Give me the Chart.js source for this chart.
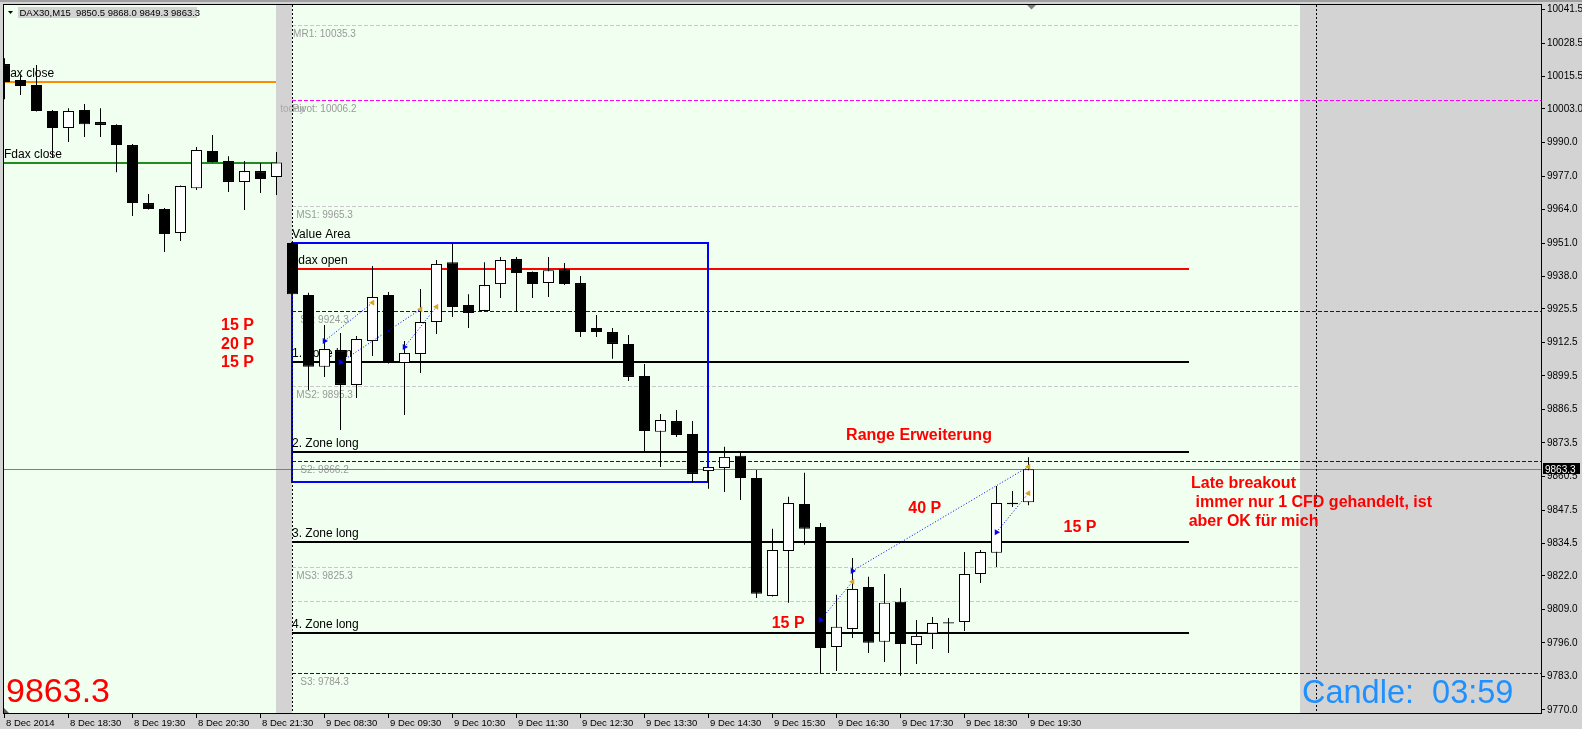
<!DOCTYPE html>
<html><head><meta charset="utf-8">
<script src="https://cdn.jsdelivr.net/npm/chart.js@4.4.1/dist/chart.umd.min.js"></script>
<style>html,body{margin:0;padding:0;background:#D3D3D3;overflow:hidden}canvas{display:block}</style>
</head><body>
<canvas id="c" width="1582" height="729"></canvas>
<script>
// ---------- data ----------
const symbol = 'DAX30,M15';
const opens = [10020.4,10014.2,10012.3,10002.2,9995.6,10002.6,9997.9,9996.8,9989.0,9966.5,9964.2,9954.9,9972.3,9986.7,9982.8,9974.7,9978.9,9976.6,
 9951.0,9930.9,9903.0,9909.5,9896.0,9913.0,9930.9,9904.5,9908.0,9920.4,9943.6,9927.0,9924.7,9935.1,9944.8,9939.8,9935.5,9940.9,9935.5,9918.1,9916.5,9911.9,9899.5,9877.8,9882.0,9877.0,9862.6,9863.8,9868.5,9859.9,9814.2,9831.6,9849.8,9840.9,9794.4,9801.4,9817.7,9796.4,9811.9,9795.2,9799.5,9804.0,9804.1,9822.7,9830.9,9850.3,9850.5];
const highs = [10022.7,10016.1,10020.0,10002.6,10003.3,10004.9,10003.3,9997.1,9989.4,9970.0,9964.6,9973.3,9988.2,9992.9,9984.7,9982.8,9982.0,9986.3,
 9951.2,9931.7,9919.2,9916.1,9915.0,9942.1,9932.0,9913.0,9933.2,9944.4,9951.0,9931.2,9943.6,9945.6,9945.6,9940.0,9945.6,9943.3,9938.2,9923.1,9918.1,9915.4,9904.1,9884.7,9886.3,9882.0,9864.2,9872.0,9870.0,9863.0,9840.2,9852.6,9861.9,9842.5,9814.6,9828.9,9821.6,9822.7,9817.3,9804.9,9806.0,9805.6,9831.2,9832.0,9856.8,9854.9,9868.0];
const lows = [10006.8,10008.4,10002.0,9984.0,9990.2,9992.1,9992.1,9978.5,9961.5,9964.0,9947.5,9951.8,9971.6,9982.2,9970.8,9963.8,9970.4,9969.6,
 9931.0,9894.0,9899.1,9878.5,9890.9,9907.2,9904.3,9884.3,9900.6,9915.7,9922.3,9918.1,9924.5,9929.7,9924.3,9929.7,9930.1,9934.7,9914.6,9914.6,9906.1,9897.5,9870.0,9864.2,9875.8,9858.0,9855.7,9854.5,9851.4,9813.4,9814.0,9811.5,9834.0,9784.3,9785.1,9797.9,9792.1,9788.6,9783.2,9787.8,9793.6,9792.1,9800.6,9819.2,9825.4,9848.7,9849.3];
const closes = [10013.4,10011.9,10002.2,9995.6,10002.2,9997.1,9996.8,9989.0,9966.5,9964.2,9954.5,9973.1,9987.1,9982.4,9974.7,9978.9,9975.8,9982.2,
 9931.2,9903.0,9909.9,9896.0,9913.8,9930.1,9904.5,9908.4,9920.4,9942.9,9926.2,9923.9,9934.7,9944.4,9939.4,9935.1,9940.5,9935.1,9916.5,9916.5,9911.9,9899.1,9878.1,9882.4,9876.6,9861.5,9864.2,9868.1,9859.9,9815.0,9832.0,9850.2,9840.2,9794.0,9802.2,9816.9,9796.0,9811.5,9795.6,9798.7,9803.7,9803.5,9822.7,9831.2,9850.2,9849.7,9863.3];

const xTickIdx = [0,4,8,12,16,20,24,28,32,36,40,44,48,52,56,60,64];
const xTickLabels = ['8 Dec 2014','8 Dec 18:30','8 Dec 19:30','8 Dec 20:30','8 Dec 21:30','9 Dec 08:30','9 Dec 09:30','9 Dec 10:30','9 Dec 11:30','9 Dec 12:30','9 Dec 13:30','9 Dec 14:30','9 Dec 15:30','9 Dec 16:30','9 Dec 17:30','9 Dec 18:30','9 Dec 19:30'];
const yTicks = [10041.5,10028.5,10015.5,10003.0,9990.0,9977.0,9964.0,9951.0,9938.0,9925.5,9912.5,9899.5,9886.5,9873.5,9860.5,9847.5,9834.5,9822.0,9809.0,9796.0,9783.0,9770.0];

const sessionStart = [-1, 18];
const sessionEnd = [17, 81];
const separatorIdx = [18, 82];

const pivotNames = ['MR1','Pivot','MS1','S1','MS2','S2','MS3','','S3'];
const pivotValues = [10035.3,10006.2,9965.3,9924.3,9895.3,9866.2,9825.3,9812.1,9784.3];

const closeNames = ['Dax close','Fdax close'];
const closeValues = [10013.4, 9982.2];

const zoneNames = ['Fdax open','1. Zone long','2. Zone long','3. Zone long','4. Zone long'];
const zoneValues = [9940.9, 9905.0, 9870.1, 9835.2, 9800.0];

const valueAreaIdx = [18, 44];
const valueAreaPrice = [9858.2, 9951.0];

const tradeEntryIdx = [20, 21, 25, 51, 53, 62];
const tradeEntryPrice = [9913.0, 9904.8, 9910.7, 9804.9, 9823.9, 9838.9];
const tradeExitIdx = [23, 26, 27, 53, 64, 64];
const tradeExitPrice = [9927.9, 9925.3, 9926.3, 9819.7, 9864.3, 9854.0];

const noteTexts = ['15 P','20 P','15 P','Range Erweiterung','40 P','15 P','15 P','Late breakout',' immer nur 1 CFD gehandelt, ist','aber OK für mich'];
const noteIdx = [13.53,13.53,13.53,52.6,56.49,47.95,66.19,74.16,74.16,74.01];
const notePrice = [9917.1,9909.8,9902.8,9874.7,9846.2,9801.7,9839.0,9855.9,9848.8,9841.3];

const candleTimer = 'Candle:  03:59';

// ---------- chart ----------
const FONT = '"Liberation Sans", Arial, sans-serif';
Chart.defaults.font.family = FONT;
Chart.defaults.color = '#000';

function txt(ctx, s, x, y, font, color, align) {
  ctx.font = font; ctx.fillStyle = color; ctx.textAlign = align || 'left';
  ctx.textBaseline = 'alphabetic'; ctx.fillText(s, x, y);
}

const mt4 = {
  id: 'mt4',
  beforeDraw(chart) {
    const {ctx, chartArea: ca, scales: {x}} = chart;
    ctx.save();
    ctx.fillStyle = '#D3D3D3'; ctx.fillRect(0, 0, chart.width, chart.height);
    ctx.fillStyle = '#A0A0A0'; ctx.fillRect(0, 0, chart.width, 2);
    ctx.beginPath(); ctx.rect(ca.left, ca.top, ca.right - ca.left, ca.bottom - ca.top); ctx.clip();
    ctx.fillStyle = '#F0FFF0';
    sessionStart.forEach((s, i) => {
      const a = Math.max(ca.left, Math.floor(x.getPixelForValue(s)));
      const b = Math.min(ca.right, Math.floor(x.getPixelForValue(sessionEnd[i])));
      ctx.fillRect(a, ca.top, b - a, ca.bottom - ca.top);
    });
    ctx.restore();
  },
  beforeDatasetsDraw(chart) {
    const {ctx, chartArea: ca, scales: {x, y}} = chart;
    const X = v => x.getPixelForValue(v), Y = v => y.getPixelForValue(v);
    const hline = (v, x0, x1, color, w, dash) => {
      let py = Y(v);
      py = (w % 2) ? Math.round(py - 0.5) + 0.5 : Math.round(py);
      ctx.beginPath(); ctx.setLineDash(dash || []); ctx.strokeStyle = color; ctx.lineWidth = w;
      ctx.moveTo(x0, py); ctx.lineTo(x1, py); ctx.stroke();
      ctx.setLineDash([]);
      return py;
    };
    ctx.save();
    ctx.beginPath(); ctx.rect(ca.left, ca.top, ca.right - ca.left, ca.bottom - ca.top); ctx.clip();
    const xa = Math.floor(X(18));
    // pivot levels
    pivotNames.forEach((n, i) => {
      const isS = n.startsWith('S'), isP = n.startsWith('P');
      const color = isP ? '#FF00FF' : (isS ? '#0000FF' : '#C8C8C8');
      const x1 = (isP || isS) ? ca.right : Math.floor(X(81));
      const py = hline(pivotValues[i], xa, x1, color, 1, [4, 2]);
      if (isP) txt(ctx, 'today', X(18), py + 11, '10px ' + FONT, '#AAAAAA', 'center');
      if (n) txt(ctx, n + ': ' + pivotValues[i].toFixed(1), X(20), py + 11, '10px ' + FONT, '#999999', 'center');
    });
    // previous close lines
    const closeColors = ['#FF8C00', '#228B22'];
    closeNames.forEach((n, i) => {
      const py = hline(closeValues[i], ca.left, Math.floor(X(17)), closeColors[i], 2);
      txt(ctx, n, i === 0 ? ca.left - 2.5 : ca.left, py - 5, '12px ' + FONT, '#000');
    });
    // zones
    zoneNames.forEach((n, i) => {
      const py = hline(zoneValues[i], xa, Math.ceil(X(74)), i === 0 ? '#FF0000' : '#000000', 2);
      txt(ctx, n, i === 0 ? xa - 1 : xa, py - 5, '12px ' + FONT, '#000');
    });
    // current price line
    hline(closes[closes.length - 1], ca.left, ca.right, '#808080', 1);
    // value area box
    const bx0 = Math.floor(X(valueAreaIdx[0])), bx1 = Math.floor(X(valueAreaIdx[1]));
    const by0 = Math.round(Y(valueAreaPrice[1])), by1 = Math.round(Y(valueAreaPrice[0]));
    ctx.strokeStyle = '#0000FF'; ctx.lineWidth = 2;
    ctx.strokeRect(bx0, by0, bx1 - bx0, by1 - by0);
    txt(ctx, 'Value Area', xa, by0 - 5.5, '12px ' + FONT, '#000');
    // separators
    ctx.strokeStyle = '#000'; ctx.lineWidth = 1; ctx.setLineDash([2, 2]);
    separatorIdx.forEach(s => {
      const px = Math.floor(X(s)) + 0.5;
      ctx.beginPath(); ctx.moveTo(px, ca.top); ctx.lineTo(px, ca.bottom); ctx.stroke();
    });
    ctx.setLineDash([]);
    // notes
    noteTexts.forEach((t, i) => txt(ctx, t, X(noteIdx[i]), Y(notePrice[i]), 'bold 16px ' + FONT, '#FF0000'));
    ctx.restore();
  },
  afterDatasetsDraw(chart) {
    const {ctx, chartArea: ca, scales: {y}} = chart;
    ctx.save();
    // frame
    ctx.strokeStyle = '#000'; ctx.lineWidth = 1;
    ctx.strokeRect(ca.left - 0.5, ca.top - 0.5, ca.right - ca.left + 1, ca.bottom - ca.top + 1);
    // last price label on axis
    const last = closes[closes.length - 1];
    const py = y.getPixelForValue(last);
    ctx.fillStyle = '#000'; ctx.fillRect(ca.right + 2, Math.round(py) - 6, 37, 11);
    txt(ctx, last.toFixed(1), ca.right + 4, Math.round(py) + 3.5, '10px ' + FONT, '#FFFFFF');
    // big texts
    txt(ctx, last.toFixed(1), 6, 702, '34px ' + FONT, '#FF0000');
    txt(ctx, candleTimer, 1302, 703, '32.5px ' + FONT, '#1E90FF');
    // header
    ctx.fillStyle = '#D3D3D3'; ctx.fillRect(18, 7, 179, 11);
    const i = closes.length - 1;
    txt(ctx, symbol + '  ' + [opens[i], highs[i], lows[i], closes[i]].map(v => v.toFixed(1)).join(' '), 19.5, 16, '9.5px ' + FONT, '#000');
    ctx.fillStyle = '#000';
    ctx.beginPath(); ctx.moveTo(8, 11); ctx.lineTo(13, 11); ctx.lineTo(10.5, 14); ctx.closePath(); ctx.fill();
    // shift marker and corner marker
    ctx.fillStyle = '#808080';
    ctx.beginPath(); ctx.moveTo(1027, 5); ctx.lineTo(1036, 5); ctx.lineTo(1031.5, 9.5); ctx.closePath(); ctx.fill();
    ctx.fillStyle = '#606060';
    ctx.beginPath(); ctx.moveTo(4, 708); ctx.lineTo(4, 713); ctx.lineTo(9, 713); ctx.closePath(); ctx.fill();
    ctx.restore();
  }
};

const bodyColors = opens.map((o, i) => closes[i] >= o ? '#FFFFFF' : '#000000');

const datasets = [
  {
    type: 'bar', label: 'wick',
    data: lows.map((l, i) => ({x: i, y: [l, highs[i]]})),
    backgroundColor: '#000', borderWidth: 0, maxBarThickness: 1,
    grouped: false, order: 3, clip: 0
  },
  {
    type: 'bar', label: 'body',
    data: opens.map((o, i) => ({x: i, y: [o, closes[i]]})),
    backgroundColor: bodyColors, borderColor: '#000', borderWidth: 1, borderSkipped: false,
    maxBarThickness: 11, grouped: false, order: 2, clip: 0
  }
].concat(tradeEntryIdx.map((e, i) => ({
  type: 'line', label: 'trade' + i,
  data: [{x: e, y: tradeEntryPrice[i]}, {x: tradeExitIdx[i], y: tradeExitPrice[i]}],
  borderColor: '#0000FF', borderWidth: 1, borderDash: [1, 2],
  pointStyle: 'triangle', pointRotation: [90, -90], pointRadius: 3.5,
  pointBackgroundColor: ['#0000FF', '#DAA520'], pointBorderColor: ['#0000FF', '#DAA520'], pointBorderWidth: 0,
  order: 1
})));

new Chart(document.getElementById('c'), {
  type: 'bar',
  data: {datasets},
  plugins: [mt4],
  options: {
    responsive: false, animation: false, devicePixelRatio: 1, events: [],
    layout: {padding: {left: 4, top: 5, right: 0, bottom: 0}, autoPadding: false},
    plugins: {legend: {display: false}, tooltip: {enabled: false}},
    scales: {
      x: {
        type: 'linear', offset: false, min: -0.03125, max: 96.03125,
        grid: {offset: false, drawOnChartArea: false, drawTicks: true, tickLength: 5, color: '#000'},
        border: {display: false},
        ticks: {autoSkip: false, maxRotation: 0, minRotation: 0, align: 'start', labelOffset: 1.5, padding: 0,
          font: {size: 9.5}, color: '#000',
          callback: (v) => { const k = xTickIdx.indexOf(v); return k >= 0 ? xTickLabels[k] : ''; }},
        afterBuildTicks: s => { s.ticks = xTickIdx.map(v => ({value: v})); },
        afterFit: s => { s.height = 16; s.paddingLeft = 0; s.paddingRight = 0; }
      },
      y: {
        type: 'linear', position: 'right', min: 9768.8, max: 10043.3,
        grid: {drawOnChartArea: false, drawTicks: true, tickLength: 4, color: '#000'},
        border: {display: false},
        ticks: {autoSkip: false, padding: 2, font: {size: 10}, color: '#000', callback: v => Number(v).toFixed(1)},
        afterBuildTicks: s => { s.ticks = yTicks.map(v => ({value: v})); },
        afterFit: s => { s.width = 41; s.paddingTop = 0; s.paddingBottom = 0; }
      }
    }
  }
});
</script></body></html>
